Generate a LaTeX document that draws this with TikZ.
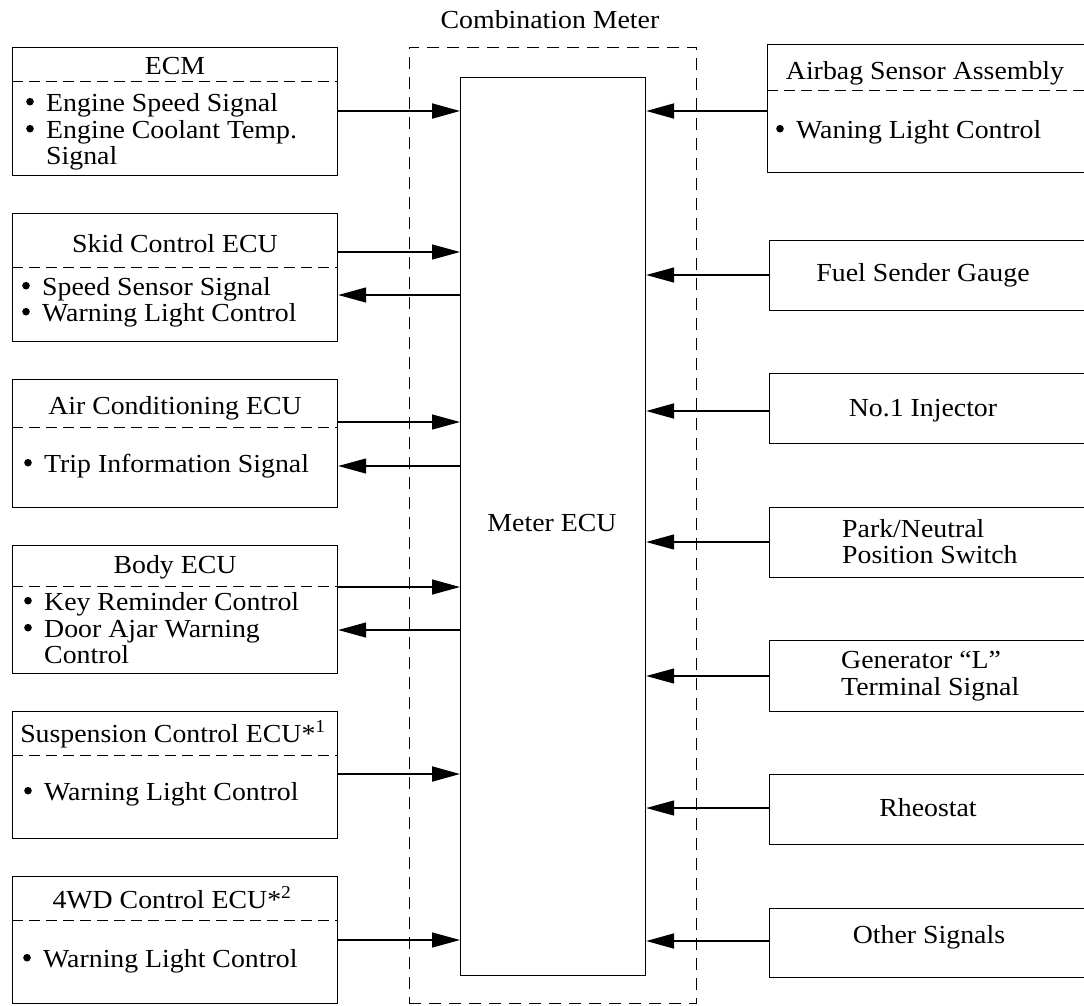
\documentclass[tikz,border=0pt]{standalone}
\usepackage{fontspec}
\setmainfont{Liberation Serif}[FakeStretch=1.07]
\usetikzlibrary{arrows.meta}
\newcommand{\bl}{\makebox[21pt][l]{\hspace{1pt}\raisebox{5.5pt}{\tikz\fill (0,0) circle (3.8pt);}}}
\begin{document}
\begin{tikzpicture}[x=1pt,y=-1pt,
  every node/.style={font=\fontsize{26}{27}\selectfont, inner sep=0pt},
  lbox/.style={draw, line width=1.2pt, anchor=north west, minimum width=325pt},
  rbox/.style={draw, line width=1.2pt, anchor=north west, minimum width=340pt},
  sepline/.style={line width=0.9pt, dash pattern=on 11pt off 6pt},
  outer/.style={draw, line width=0.9pt, dash pattern=on 12pt off 8pt, anchor=north west},
  sig/.style={line width=1.3pt, -{Triangle[length=28pt,width=15pt]}},
  sigb/.style={line width=2pt, -{Triangle[length=28pt,width=15pt]}},
  ttl/.style={anchor=base},
  itm/.style={anchor=base west, text height=17pt, text depth=5pt}]
\useasboundingbox (0,0) rectangle (1084,1005);
\clip (0,0) rectangle (1084,1005);
\fill[white] (0,0) rectangle (1084,1005);

% combination meter
\node[outer, minimum width=287pt, minimum height=956pt] (combo) at (409,47) {};
\node[ttl] (combolbl) at (550,28) {Combination Meter};
\node[draw, line width=1.2pt, anchor=north west, minimum width=185pt, minimum height=898pt] (meter) at (460,77) {};
\node[ttl] (meterlbl) at (552,531) {Meter ECU};

% ---------- left boxes ----------
\node[lbox, minimum height=128pt] (ecm) at (12,47) {};
\draw[sepline] (ecm.west |- 0,81) -- (ecm.east |- 0,81);
\node[ttl] (ecmt) at (175,74) {ECM};
\node[itm] (ecm1) at (25,111) {\bl Engine Speed Signal};
\node[itm] (ecm2) at (25,138) {\bl Engine Coolant Temp.};
\node[itm] (ecm3) at (46,164) {Signal};

\node[lbox, minimum height=128pt] (skid) at (12,213) {};
\draw[sepline] (skid.west |- 0,267) -- (skid.east |- 0,267);
\node[ttl] (skidt) at (175,252) {Skid Control ECU};
\node[itm] (skid1) at (21,295) {\bl Speed Sensor Signal};
\node[itm] (skid2) at (21,321) {\bl Warning Light Control};

\node[lbox, minimum height=128pt] (ac) at (12,379) {};
\draw[sepline] (ac.west |- 0,427) -- (ac.east |- 0,427);
\node[ttl] (act) at (175,414) {Air Conditioning ECU};
\node[itm] (ac1) at (23,472) {\bl Trip Information Signal};

\node[lbox, minimum height=128pt] (body) at (12,545) {};
\draw[sepline] (body.west |- 0,586) -- (body.east |- 0,586);
\node[ttl] (bodyt) at (175,573) {Body ECU};
\node[itm] (body1) at (23,610) {\bl Key Reminder Control};
\node[itm] (body2) at (23,637) {\bl Door Ajar Warning};
\node[itm] (body3) at (44,663) {Control};

\node[lbox, minimum height=127pt] (susp) at (12,711) {};
\draw[sepline] (susp.west |- 0,755) -- (susp.east |- 0,755);
\node[ttl] (suspt) at (173,742) {Suspension Control ECU*\textsuperscript{1}};
\node[itm] (susp1) at (23,800) {\bl Warning Light Control};

\node[lbox, minimum height=127pt] (fwd) at (12,876) {};
\draw[sepline] (fwd.west |- 0,920) -- (fwd.east |- 0,920);
\node[ttl] (fwdt) at (172,908) {4WD Control ECU*\textsuperscript{2}};
\node[itm] (fwd1) at (22,967) {\bl Warning Light Control};

% ---------- right boxes ----------
\node[rbox, minimum height=128pt] (air) at (767,44) {};
\draw[sepline] (air.west |- 0,90) -- (air.east |- 0,90);
\node[ttl] (airt) at (925,79) {Airbag Sensor Assembly};
\node[itm] (air1) at (775,138) {\bl Waning Light Control};

\node[rbox, minimum height=70pt] (fuel) at (769,240) {};
\node[ttl] (fuelt) at (923,281) {Fuel Sender Gauge};

\node[rbox, minimum height=70pt] (inj) at (769,373) {};
\node[ttl] (injt) at (923,416) {No.1 Injector};

\node[rbox, minimum height=70pt] (park) at (769,507) {};
\node[itm] (park1) at (842,537) {Park/Neutral};
\node[itm] (park2) at (842,563) {Position Switch};

\node[rbox, minimum height=71pt] (gen) at (769,640) {};
\node[itm] (gen1) at (841,668) {Generator “L”};
\node[itm] (gen2) at (841,695) {Terminal Signal};

\node[rbox, minimum height=70pt] (rheo) at (769,774) {};
\node[ttl] (rheot) at (928,816) {Rheostat};

\node[rbox, minimum height=69pt] (oth) at (769,908) {};
\node[ttl] (otht) at (929,943) {Other Signals};

% ---------- connectors ----------
\draw[sigb] (ecm.east |- 0,111) -- (meter.west |- 0,111);
\draw[sig] (skid.east |- 0,252) -- (meter.west |- 0,252);
\draw[sig] (meter.west |- 0,295) -- (skid.east |- 0,295);
\draw[sig] (ac.east |- 0,422) -- (meter.west |- 0,422);
\draw[sig] (meter.west |- 0,466) -- (ac.east |- 0,466);
\draw[sig] (body.east |- 0,587) -- (meter.west |- 0,587);
\draw[sig] (meter.west |- 0,630) -- (body.east |- 0,630);
\draw[sigb] (susp.east |- 0,774) -- (meter.west |- 0,774);
\draw[sig] (fwd.east |- 0,940) -- (meter.west |- 0,940);

\draw[sigb] (air.west |- 0,111) -- (meter.east |- 0,111);
\draw[sig] (fuel.west |- 0,275) -- (meter.east |- 0,275);
\draw[sigb] (inj.west |- 0,411) -- (meter.east |- 0,411);
\draw[sig] (park.west |- 0,542) -- (meter.east |- 0,542);
\draw[sig] (gen.west |- 0,676) -- (meter.east |- 0,676);
\draw[sig] (rheo.west |- 0,808) -- (meter.east |- 0,808);
\draw[sigb] (oth.west |- 0,941) -- (meter.east |- 0,941);
\end{tikzpicture}
\end{document}
